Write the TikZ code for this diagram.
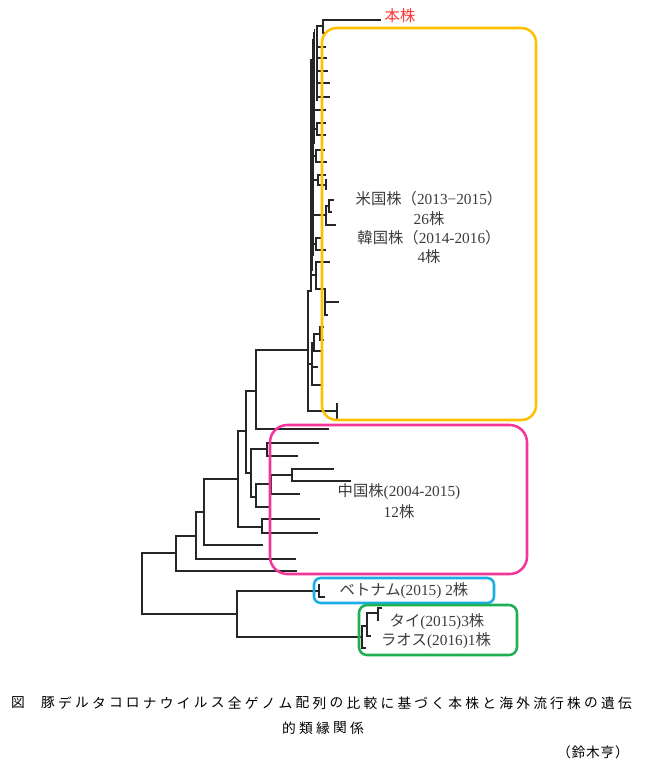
\documentclass[tikz,border=0pt]{standalone}
\usepackage{fontspec}
\setmainfont{Liberation Serif}
\newfontfamily\cjk{Noto Sans CJK JP}
\definecolor{yel}{HTML}{FFC000}
\definecolor{pnk}{HTML}{F4369A}
\definecolor{blu}{HTML}{1AAEE8}
\definecolor{grn}{HTML}{1EB052}
\definecolor{honred}{HTML}{FF3333}
\definecolor{txt}{HTML}{3C3C3C}
\newcommand\jp[1]{{\cjk #1}}
\newcommand\vseg[3]{\draw[tr] (#1,#2) -- (#1,#3);}
\newcommand\hseg[3]{\draw[tr] (#1,#2) -- (#3,#2);}
\tikzset{
  tr/.style={line width=1pt, draw=black!85, line cap=rect},
  cladebox/.style={line width=1.9pt, fill=none},
  lbl/.style={inner sep=0pt, text=txt, font=\fontsize{11.5}{13}\selectfont},
  captxt/.style={inner sep=0pt, text=black, font=\cjk\fontsize{10.3}{11}\selectfont}
}
\begin{document}
\begin{tikzpicture}[x=0.75pt,y=-0.75pt]
\useasboundingbox (0,0) rectangle (647,775);
% ---------- lower tree ----------
\vseg{142}{553}{614}
\hseg{142}{553}{176}
\hseg{142}{614}{237}
\vseg{176}{536}{571}
\hseg{176}{571}{296}
\hseg{176}{536}{196}
\vseg{196}{512}{559}
\hseg{196}{559}{295}
\hseg{196}{512}{204}
\vseg{204}{479}{545}
\hseg{204}{545}{262}
\hseg{204}{479}{238}
\vseg{238}{431}{527}
\hseg{238}{527}{262}
\vseg{262}{519}{533}
\hseg{262}{519}{319}
\hseg{262}{533}{317}
\hseg{238}{431}{246}
\vseg{246}{391}{473}
\hseg{246}{391}{256}
\vseg{256}{350}{429}
\hseg{256}{429}{328}
\hseg{256}{350}{308}
\hseg{246}{473}{251}
\vseg{251}{449}{497}
\hseg{251}{449}{267}
\vseg{267}{443}{456}
\hseg{267}{443}{318}
\hseg{267}{456}{297}
\hseg{251}{497}{256}
\vseg{256}{484}{507}
\hseg{256}{507}{270}
\hseg{256}{484}{271}
\vseg{271}{475}{494}
\hseg{271}{494}{299}
\hseg{271}{475}{292}
\vseg{292}{469}{481}
\hseg{292}{469}{333}
\hseg{292}{481}{350}
% Vietnam / Thai-Laos
\vseg{237}{591}{637}
\hseg{237}{591}{319}
\vseg{319}{585}{597}
\hseg{319}{597}{324}
\hseg{237}{637}{362}
\vseg{362}{626}{648}
\hseg{362}{648}{365}
\hseg{362}{626}{367}
\vseg{367}{613}{636}
\hseg{367}{636}{370}
\hseg{367}{613}{378}
\vseg{378}{608}{620}
\hseg{378}{608}{381}
% ---------- yellow clade ----------
\vseg{308}{291}{411}
\hseg{308}{411}{337}
\vseg{337}{404}{418}
\hseg{308}{364}{312}
\vseg{312}{343}{385}
\hseg{312}{343}{314}
\vseg{314}{334}{351}
\hseg{314}{334}{320}
\vseg{320}{327}{340}
\hseg{320}{327}{323}
\hseg{320}{340}{323}
\hseg{314}{351}{321}
\hseg{312}{367}{317}
\hseg{312}{385}{322}
\hseg{308}{291}{311}
% trunk
\vseg{311}{60}{291}
\vseg{312.2}{40}{270}
\vseg{313.4}{33}{255}
\vseg{314.6}{30}{143}
\vseg{317}{26}{100}
% top: 本株
\hseg{317}{26}{323}
\vseg{323}{20}{33}
\hseg{323}{20}{380}
\hseg{323}{33}{325}
\hseg{317}{47}{325}
\hseg{317}{58}{326}
\hseg{317}{71}{327}
\hseg{317}{83}{329}
\hseg{317}{97}{329}
\hseg{314}{110}{325}
\hseg{314}{129}{317}
\vseg{317}{123}{135}
\hseg{317}{123}{325}
\hseg{317}{135}{325}
\hseg{313}{156}{316}
\vseg{316}{150}{162}
\hseg{316}{150}{324}
\hseg{316}{162}{326}
\hseg{313}{180}{318}
\vseg{318}{175}{185}
\hseg{318}{175}{325}
\hseg{318}{185}{326}
\vseg{326}{180}{189}
\hseg{312}{215}{326}
\vseg{326}{206}{225}
\hseg{326}{206}{329}
\vseg{329}{200}{212}
\hseg{329}{200}{333}
\hseg{329}{212}{331}
\hseg{326}{225}{335}
\hseg{311}{244}{316}
\vseg{316}{238}{250}
\hseg{316}{238}{322}
\hseg{316}{250}{325}
\hseg{311}{275}{316}
\vseg{316}{262}{289}
\hseg{316}{262}{329}
\hseg{316}{289}{325}
\vseg{325}{289}{315}
\hseg{325}{302}{338}
\hseg{325}{315}{327}
% ---------- clade boxes ----------
\draw[cladebox, draw=yel, rounded corners=11pt] (322,28) rectangle (536,420);
\draw[cladebox, draw=pnk, rounded corners=13pt] (270,425) rectangle (527,574);
\draw[cladebox, draw=blu, rounded corners=5pt] (314,578) rectangle (494,603);
\draw[cladebox, draw=grn, rounded corners=6pt] (359,605) rectangle (517,655);
% ---------- labels ----------
\node[inner sep=0pt, text=honred, font=\cjk\fontsize{11.5}{13}\selectfont] (hon) at (400,16) {本株};
\node[lbl] (us) at (429,199) {\jp{米国株（}2013−2015\jp{）}};
\node[lbl] (us2) at (429,219) {26\jp{株}};
\node[lbl] (kr) at (429,238) {\jp{韓国株（}2014-2016\jp{）}};
\node[lbl] (kr2) at (429,257) {4\jp{株}};
\node[lbl] (cn) at (399,492) {\jp{中国株}(2004-2015)};
\node[lbl] (cn2) at (399,512) {12\jp{株}};
\node[lbl] (vn) at (404,591) {\jp{ベトナム}(2015) 2\jp{株}};
\node[lbl] (th) at (437,622) {\jp{タイ}(2015)3\jp{株}};
\node[lbl] (la) at (436,641) {\jp{ラオス}(2016)1\jp{株}};
% ---------- caption ----------
\node[captxt] (fig) at (18,703) {図};
\foreach \c [count=\i] in {豚,デ,ル,タ,コ,ロ,ナ,ウ,イ,ル,ス,全,ゲ,ノ,ム,配,列,の,比,較,に,基,づ,く,本,株,と,海,外,流,行,株,の,遺,伝}
  \node[captxt] (ca\i) at ({48+(\i-1)*16.97},703) {\c};
\foreach \c [count=\i] in {的,類,縁,関,係}
  \node[captxt] (cb\i) at ({289+(\i-1)*17},728) {\c};
\foreach \c [count=\i] in {（,鈴,木,亨,）}
  \node[captxt] (au\i) at ({564+(\i-1)*14.5},752) {\c};
\end{tikzpicture}
\end{document}
